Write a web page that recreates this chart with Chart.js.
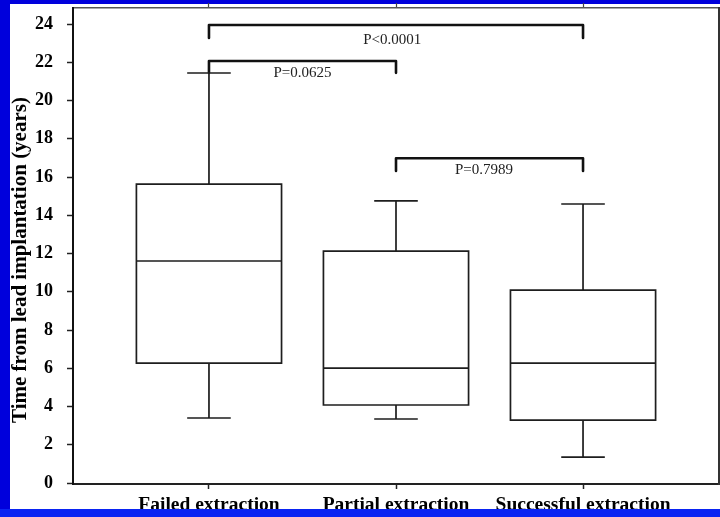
<!DOCTYPE html>
<html>
<head>
<meta charset="utf-8">
<script src="https://cdn.jsdelivr.net/npm/chart.js@4.4.1/dist/chart.umd.min.js"></script>
<style>
  html, body { margin:0; padding:0; }
  body { width:720px; height:517px; overflow:hidden; position:relative; background:#0000dc; }
  #panel { position:absolute; left:10px; top:4px; width:710px; height:505px; background:#ffffff; }
  #wrap { position:absolute; left:0; top:0; width:720px; height:517px; }
  #bottomBand { position:absolute; left:0; top:509px; width:720px; height:8px; background:#0a24f2; z-index:5; }
</style>
</head>
<body>
<div id="panel"></div>
<div id="wrap"><canvas id="c" width="720" height="517"></canvas></div>
<div id="bottomBand"></div>
<script>
// ---- data ----
const categories = ['Failed extraction', 'Partial extraction', 'Successful extraction'];
const whiskerLow  = [3.40, 3.35, 1.36];
const q1          = [6.27, 4.08, 3.29];
const median      = [11.61, 6.01, 6.27];
const q3          = [15.63, 12.13, 10.09];
const whiskerHigh = [21.44, 14.75, 14.59];

const yTicks = [0, 2, 4, 6, 8, 10, 12, 14, 16, 18, 20, 22, 24];
const yTitle = 'Time from lead implantation (years)';

const bracketFrom   = [1, 1, 2];
const bracketTo     = [3, 2, 3];
const bracketY      = [23.95, 22.07, 16.98];
const bracketDrop   = [0.68, 0.62, 0.66];
const bracketLabels = ['P<0.0001', 'P=0.0625', 'P=0.7989'];
const bracketLabelX = [1.98, 1.50, 2.47];
const bracketLabelY = [23.17, 21.45, 16.35];

// ---- styling constants ----
const SERIF = '"Liberation Serif", "Times New Roman", serif';
const boxHalf = 0.388, capHalf = 0.112;
const X_MIN = 0.273, X_MAX = 3.727, Y_MIN = -0.05, Y_MAX = 24.84;

function gap(x) { return { x: x, y: null }; }
function boxPoints(i) {
  const x = i + 1;
  return [
    { x: x - boxHalf, y: q1[i] }, { x: x + boxHalf, y: q1[i] },
    { x: x + boxHalf, y: q3[i] }, { x: x - boxHalf, y: q3[i] },
    { x: x - boxHalf, y: q1[i] }, gap(x),
    { x: x - boxHalf, y: median[i] }, { x: x + boxHalf, y: median[i] }, gap(x),
    { x: x, y: q3[i] }, { x: x, y: whiskerHigh[i] }, gap(x),
    { x: x - capHalf, y: whiskerHigh[i] }, { x: x + capHalf, y: whiskerHigh[i] }, gap(x),
    { x: x, y: q1[i] }, { x: x, y: whiskerLow[i] }, gap(x),
    { x: x - capHalf, y: whiskerLow[i] }, { x: x + capHalf, y: whiskerLow[i] }
  ];
}
function bracketPoints() {
  const pts = [];
  bracketFrom.forEach((f, k) => {
    const t = bracketTo[k], y = bracketY[k], d = bracketDrop[k];
    pts.push({ x: f, y: y - d }, { x: f, y: y }, { x: t, y: y }, { x: t, y: y - d }, gap(t));
  });
  return pts;
}

const datasets = categories.map((c, i) => ({
  label: c,
  data: boxPoints(i),
  showLine: true,
  spanGaps: false,
  borderColor: '#1e1e1e',
  borderWidth: 1.7,
  borderCapStyle: 'square',
  borderJoinStyle: 'miter',
  pointRadius: 0,
  pointHoverRadius: 0,
  tension: 0
}));
datasets.push({
  label: 'brackets',
  data: bracketPoints(),
  showLine: true,
  spanGaps: false,
  borderColor: '#111111',
  borderWidth: 2.6,
  borderCapStyle: 'round',
  borderJoinStyle: 'round',
  pointRadius: 0,
  pointHoverRadius: 0,
  tension: 0
});

const catTicks = s => { s.ticks = categories.map((c, i) => ({ value: i + 1 })); };
const noPad = s => { s.paddingTop = 0; s.paddingBottom = 0; s.paddingLeft = 0; s.paddingRight = 0; };

const annotationPlugin = {
  id: 'annotations',
  afterDatasetsDraw(chart) {
    const ctx = chart.ctx, xs = chart.scales.x, ys = chart.scales.y;
    ctx.save();
    ctx.fillStyle = '#222';
    ctx.font = '15px ' + SERIF;
    ctx.textAlign = 'center';
    ctx.textBaseline = 'middle';
    bracketLabels.forEach((t, k) => {
      ctx.fillText(t, xs.getPixelForValue(bracketLabelX[k]), ys.getPixelForValue(bracketLabelY[k]));
    });
    ctx.restore();
    ctx.save();
    ctx.translate(21, 260);
    ctx.rotate(-Math.PI / 2);
    ctx.fillStyle = '#000';
    ctx.font = 'bold 21px ' + SERIF;
    ctx.textAlign = 'center';
    ctx.textBaseline = 'middle';
    ctx.fillText(yTitle, 0, 0);
    ctx.restore();
  }
};

new Chart(document.getElementById('c'), {
  type: 'scatter',
  data: { datasets: datasets },
  plugins: [annotationPlugin],
  options: {
    responsive: false,
    animation: false,
    devicePixelRatio: 1,
    layout: { padding: 0 },
    plugins: { legend: { display: false }, tooltip: { enabled: false } },
    scales: {
      x: {
        type: 'linear', position: 'bottom', min: X_MIN, max: X_MAX,
        afterBuildTicks: catTicks,
        afterFit: s => { s.height = 33; noPad(s); },
        ticks: {
          callback: v => categories[Math.round(v) - 1] || '',
          font: { family: SERIF, size: 19.5, weight: 'bold' },
          color: '#000', padding: 4, maxRotation: 0, autoSkip: false
        },
        grid: { drawOnChartArea: false, tickLength: 5, tickColor: '#222', tickWidth: 1.5 },
        border: { color: '#222', width: 2 }
      },
      xTop: {
        type: 'linear', position: 'top', min: X_MIN, max: X_MAX,
        afterBuildTicks: catTicks,
        afterFit: s => { s.height = 8; noPad(s); },
        ticks: { display: false },
        grid: { drawOnChartArea: false, tickLength: 5, tickColor: '#444', tickWidth: 1.2 },
        border: { color: '#555', width: 1.5 }
      },
      y: {
        type: 'linear', position: 'left', min: Y_MIN, max: Y_MAX,
        afterBuildTicks: s => { s.ticks = yTicks.map(v => ({ value: v })); },
        afterFit: s => { s.width = 73; noPad(s); },
        ticks: {
          font: { family: SERIF, size: 18, weight: 'bold' },
          color: '#000', padding: 14
        },
        grid: { drawOnChartArea: false, tickLength: 6, tickColor: '#222', tickWidth: 1.5 },
        border: { color: '#111', width: 2 }
      },
      yRight: {
        type: 'linear', position: 'right', min: Y_MIN, max: Y_MAX,
        afterFit: s => { s.width = 1; noPad(s); },
        ticks: { display: false },
        grid: { display: false },
        border: { color: '#333', width: 2 }
      }
    }
  }
});
</script>
</body>
</html>
